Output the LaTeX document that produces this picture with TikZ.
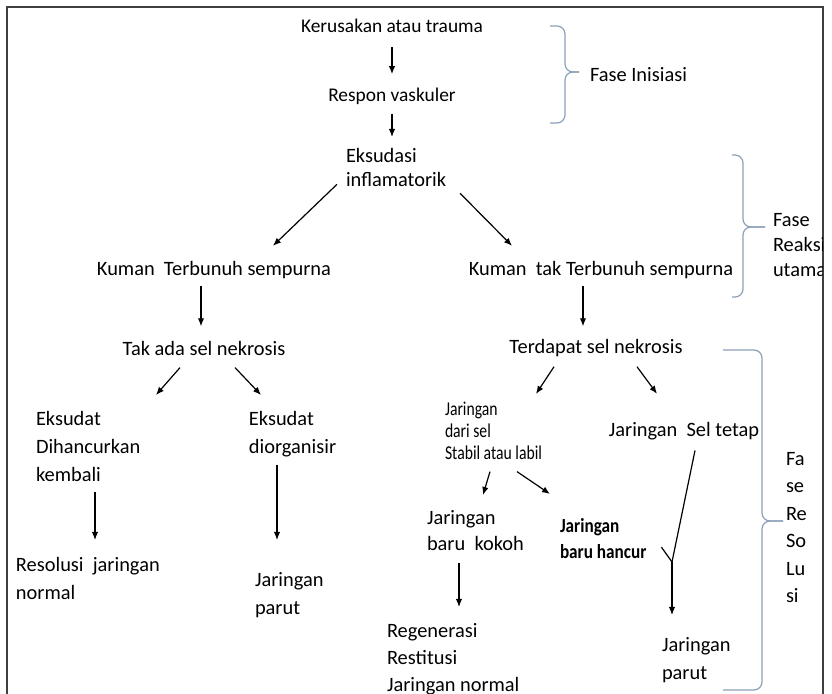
\documentclass[tikz,border=0pt]{standalone}
\usepackage{fontspec}
\setmainfont{Carlito}
\newfontfamily\condfont[FakeStretch=0.86]{Carlito}
\newfontfamily\narrowfont[FakeStretch=0.8]{Carlito}
\usetikzlibrary{arrows.meta,positioning}
\definecolor{bracecol}{RGB}{140,160,185}

\begin{document}
\begin{tikzpicture}[
  x=0.5pt, y=-0.5pt,
  lbl/.style={inner sep=0pt, outer sep=0pt, font=\fontsize{10.2}{14}\selectfont},
  toplbl/.style={lbl, font=\fontsize{9.7}{12}\selectfont},
  multi/.style={lbl, align=left, anchor=north west},
  arr/.style={-{Latex[length=4pt,width=3.2pt]}, line width=0.6pt},
  line/.style={line width=0.6pt},
  brace/.style={draw=bracecol, line width=0.6pt, rounded corners=4pt},
  frame/.style={draw=black!75, line width=1pt}
]
\useasboundingbox (0,0) rectangle (832,694);
\draw[frame] (7,694) -- (7,7) -- (823,7) -- (823,694);

% Fase inisiasi
\node[toplbl, anchor=base] (kerusakan) at (392,33) {Kerusakan atau trauma};
\node[toplbl, below=27.5pt of kerusakan] (respon) {Respon vaskuler};
\node[multi, font=\fontsize{10.2}{12}\selectfont] (eksudasi) at (346,148) {Eksudasi\\inflamatorik};

% Fase reaksi utama
\node[lbl, anchor=base] (kumanA) at (214,276) {Kuman~~Terbunuh sempurna};
\node[lbl, anchor=base] (kumanB) at (601,276) {Kuman~~tak Terbunuh sempurna};

% Fase resolusi - kiri
\node[lbl, below=31pt of kumanA, xshift=-5pt] (takada) {Tak ada sel nekrosis};
\node[multi] (eksA) at (36,411) {Eksudat\\Dihancurkan\\kembali};
\node[multi] (eksB) at (249,411) {Eksudat\\diorganisir};
\node[multi] (resolusi) at (16,557) {Resolusi~~jaringan\\normal};
\node[multi] (parutA) at (255,572) {Jaringan\\parut};

% Fase resolusi - kanan
\node[lbl, below=30pt of kumanB, xshift=-2.5pt] (terdapat) {Terdapat sel nekrosis};
\node[multi, font=\narrowfont\fontsize{9.8}{11}\selectfont] (stabil) at (445,402) {Jaringan\\dari sel\\Stabil atau labil};
\node[lbl, anchor=base] (seltetap) at (684,437) {Jaringan~~Sel tetap};
\node[multi, font=\fontsize{10.2}{13}\selectfont] (kokoh) at (427,510) {Jaringan\\baru~~kokoh};
\node[multi, font=\condfont\bfseries\fontsize{10}{13}\selectfont] (hancur) at (560,518) {Jaringan\\baru hancur};
\node[multi, font=\fontsize{10.2}{13.5}\selectfont] (regenerasi) at (387,623) {Regenerasi\\Restitusi\\Jaringan normal};
\node[multi] (parutB) at (662,637) {Jaringan\\parut};
\coordinate (junction) at (672,562);

% label fase
\node[lbl, anchor=base west] (inisiasi) at (590,82) {Fase Inisiasi};
\begin{scope}
  \clip (0,0) rectangle (822,694);
  \node[multi, font=\fontsize{10.2}{12.5}\selectfont] (reaksi) at (773,213) {Fase\\Reaksi\\utama};
\end{scope}
\node[multi, font=\fontsize{10.2}{13.75}\selectfont] (resolusiFase) at (786,452) {Fa\\se\\Re\\So\\Lu\\si};

\draw[arr, shorten <=7pt, shorten >=7pt] (kerusakan) -- (respon);
\draw[arr, shorten <=4.5pt, shorten >=5.5pt] (respon) -- (respon |- eksudasi.north);
\draw[arr] ([xshift=-4.5pt,yshift=1pt]eksudasi.south west) -- ([xshift=29.5pt,yshift=8pt]kumanA.north);
\draw[arr] ([xshift=32pt,yshift=-3.5pt]eksudasi.south) -- ([xshift=-44.5pt,yshift=8pt]kumanB.north);
\draw[arr, shorten <=3.5pt, shorten >=7.5pt] ([xshift=-6.5pt]kumanA.south) -- ([xshift=-1.5pt]takada.north);
\draw[arr, shorten <=3.5pt, shorten >=6.5pt] ([xshift=-9pt]kumanB.south) -- ([xshift=-6.5pt]terdapat.north);
\draw[arr] ([xshift=-12pt,yshift=-6pt]takada.south) -- ([xshift=60pt,yshift=8pt]eksA.north west);
\draw[arr] ([xshift=15.5pt,yshift=-6pt]takada.south) -- ([xshift=6pt,yshift=8pt]eksB.north west);
\draw[arr] ([xshift=29.5pt,yshift=-5.5pt]eksA.south west) -- ([xshift=39.5pt,yshift=8.5pt]resolusi.north west);
\draw[arr] ([xshift=14pt,yshift=-4pt]eksB.south west) -- ([xshift=11pt,yshift=16pt]parutA.north west);
\draw[arr] ([xshift=-21pt,yshift=-5pt]terdapat.south) -- ([xshift=45.5pt,yshift=4pt]stabil.north west);
\draw[arr] ([xshift=20.5pt,yshift=-5pt]terdapat.south) -- ([xshift=-13.5pt,yshift=14.5pt]seltetap.north);
\draw[arr] ([xshift=22.5pt,yshift=-6pt]stabil.south west) -- ([xshift=28pt,yshift=7.5pt]kokoh.north west);
\draw[arr] ([xshift=36pt,yshift=-6pt]stabil.south west) -- ([xshift=-5pt,yshift=12pt]hancur.north west);
\draw[arr] ([xshift=16pt,yshift=-6.5pt]kokoh.south west) -- ([xshift=36pt,yshift=8pt]regenerasi.north west);
\draw[line] ([xshift=5.5pt,yshift=-5pt]seltetap.south) -- (junction);
\draw[line] ([xshift=7.5pt,yshift=5.5pt]hancur.south east) -- (junction);
\draw[arr, shorten >=11pt] (junction) -- (junction |- parutB.north);

% kurung kurawal
\draw[brace] (550,26) -- (565,26) -- (565,72) -- (579,72);
\draw[brace] (550,123) -- (565,123) -- (565,72) -- (579,72);
\draw[brace] (732,155) -- (743,155) -- (743,227) -- (765,227);
\draw[brace] (732,297) -- (743,297) -- (743,227) -- (765,227);
\draw[brace] (723,350) -- (762,350) -- (762,521) -- (783,521);
\draw[brace] (723,690) -- (762,690) -- (762,521) -- (783,521);
\end{tikzpicture}
\end{document}
